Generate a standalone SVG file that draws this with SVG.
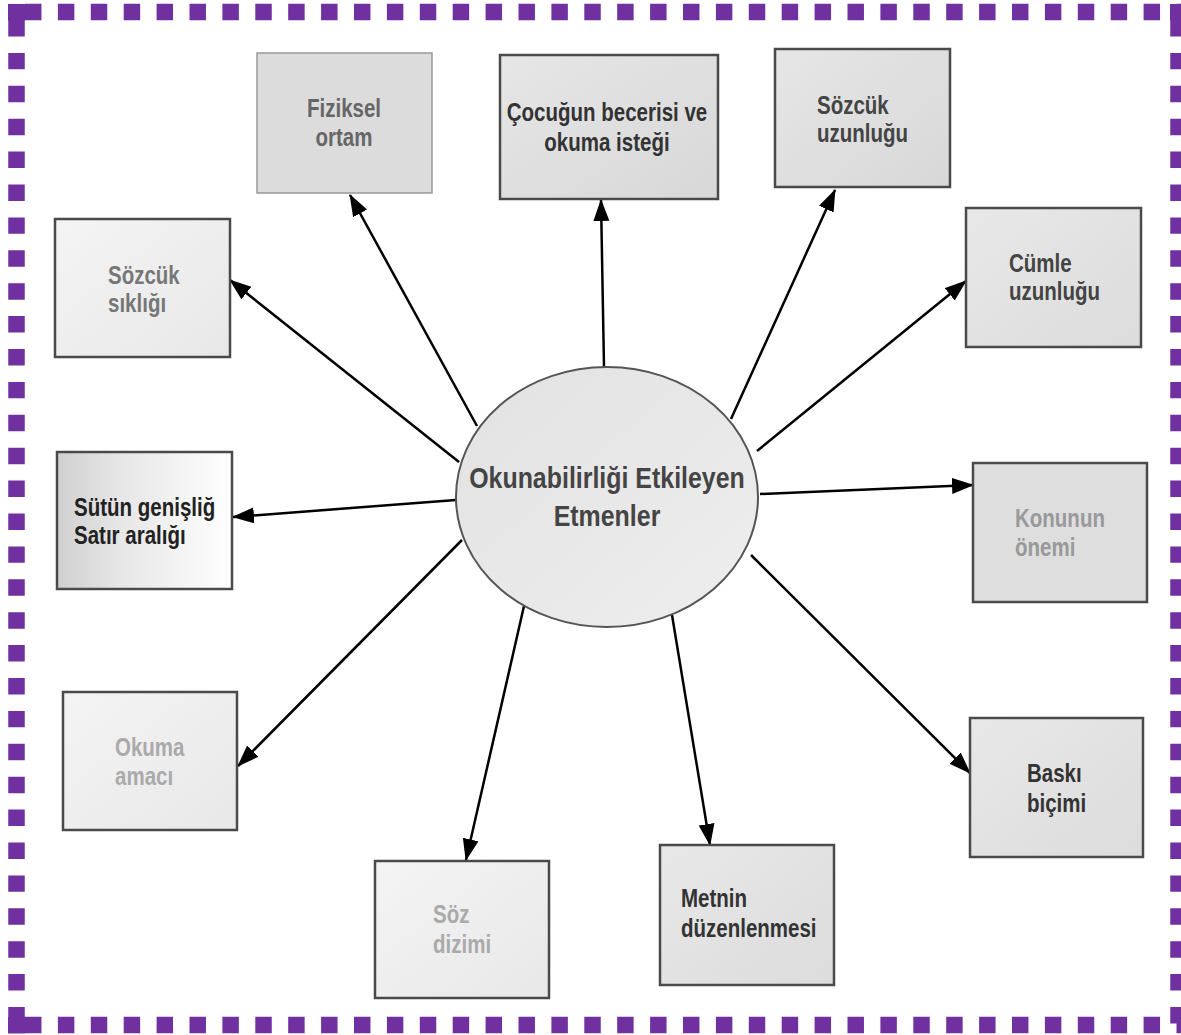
<svg xmlns="http://www.w3.org/2000/svg" width="1181" height="1035" viewBox="0 0 1181 1035">
<defs>
<linearGradient id="g1" x1="0" y1="0" x2="1" y2="1"><stop offset="0" stop-color="#e6e6e6"/><stop offset="1" stop-color="#d8d8d8"/></linearGradient>
<linearGradient id="g2" x1="0" y1="0" x2="1" y2="1"><stop offset="0" stop-color="#f4f4f4"/><stop offset="1" stop-color="#e8e8e8"/></linearGradient>
<linearGradient id="g3" x1="0" y1="0" x2="1" y2="0"><stop offset="0" stop-color="#d0d0d0"/><stop offset="0.35" stop-color="#e6e6e6"/><stop offset="1" stop-color="#ffffff"/></linearGradient>
<linearGradient id="g4" x1="0" y1="0" x2="1" y2="1"><stop offset="0" stop-color="#e8e8e8"/><stop offset="1" stop-color="#dcdcdc"/></linearGradient>
<linearGradient id="ge" x1="0" y1="0" x2="1" y2="1"><stop offset="0" stop-color="#e2e2e2"/><stop offset="1" stop-color="#eeeeee"/></linearGradient>
<marker id="ah" markerUnits="userSpaceOnUse" markerWidth="24" markerHeight="18" refX="21" refY="8" orient="auto"><path d="M0,0 L22,8 L0,16 z" fill="#000"/></marker>
</defs>
<style>
.bd{fill:none;stroke:#7030a0;stroke-width:16.5;stroke-dasharray:16.45 16.45}
.bx{stroke:#4a4a4a;stroke-width:2.5}
.t{font-family:"Liberation Sans",Arial,sans-serif;font-weight:bold;font-size:25px}
.c{stroke:#000;stroke-width:2.5;fill:none;marker-end:url(#ah)}
</style>
<rect width="1181" height="1035" fill="#fff"/>
<g id="border">
<line class="bd" x1="25" y1="12" x2="1181" y2="12"/>
<line class="bd" x1="25" y1="1025" x2="1181" y2="1025"/>
<line class="bd" x1="16.5" y1="20" x2="16.5" y2="1035"/>
<line class="bd" x1="1178.5" y1="20" x2="1178.5" y2="1035"/>
<rect x="8" y="4" width="17" height="16.5" fill="#7030a0"/>
<rect x="1170" y="4" width="17" height="16.5" fill="#7030a0"/>
<rect x="8" y="1017" width="17" height="16.5" fill="#7030a0"/>
</g>
<g id="connectors">
<line class="c" x1="477" y1="426" x2="350" y2="195"/>
<line class="c" x1="604" y1="367" x2="601" y2="200"/>
<line class="c" x1="731" y1="419" x2="835" y2="190"/>
<line class="c" x1="757" y1="451" x2="966" y2="281"/>
<line class="c" x1="760" y1="494" x2="973" y2="485"/>
<line class="c" x1="751" y1="555" x2="970" y2="773"/>
<line class="c" x1="672" y1="615" x2="710" y2="845"/>
<line class="c" x1="524" y1="606" x2="466" y2="860"/>
<line class="c" x1="462" y1="540" x2="238" y2="766"/>
<line class="c" x1="456" y1="500" x2="233" y2="517"/>
<line class="c" x1="459" y1="462" x2="230" y2="280"/>
</g>
<g id="center">
<ellipse cx="607" cy="497" rx="151" ry="130" fill="url(#ge)" stroke="#555" stroke-width="2"/>
<text class="t" fill="#444" text-anchor="middle" transform="translate(607,488) scale(0.86,1)" style="font-size:29px"><tspan x="0" y="0">Okunabilirliği Etkileyen</tspan><tspan x="0" y="38">Etmenler</tspan></text>
</g>
<g id="n-fiziksel">
<rect x="257" y="53" width="175" height="140" fill="#dcdcdc" stroke="#999" stroke-width="1.5"/>
<text class="t" fill="#666" text-anchor="middle" transform="translate(344,117) scale(0.82,1)"><tspan x="0" y="0">Fiziksel</tspan><tspan x="0" y="29">ortam</tspan></text>
</g>
<g id="n-cocugun">
<rect class="bx" x="500" y="55" width="218" height="144" fill="url(#g1)" stroke="#444"/>
<text class="t" fill="#333" text-anchor="middle" transform="translate(607,121) scale(0.82,1)"><tspan x="0" y="0">Çocuğun becerisi ve</tspan><tspan x="0" y="30">okuma isteği</tspan></text>
</g>
<g id="n-sozcuk-uzunlugu">
<rect class="bx" x="775" y="49" width="175" height="138" fill="url(#g1)"/>
<text class="t" fill="#444" transform="translate(817,114) scale(0.82,1)"><tspan x="0" y="0">Sözcük</tspan><tspan x="0" y="28">uzunluğu</tspan></text>
</g>
<g id="n-cumle">
<rect class="bx" x="966" y="208" width="175" height="139" fill="url(#g4)"/>
<text class="t" fill="#444" transform="translate(1009,272) scale(0.82,1)"><tspan x="0" y="0">Cümle</tspan><tspan x="0" y="28">uzunluğu</tspan></text>
</g>
<g id="n-konunun">
<rect class="bx" x="973" y="463" width="174" height="139" fill="#dedede"/>
<text class="t" fill="#999" transform="translate(1015,527) scale(0.82,1)"><tspan x="0" y="0">Konunun</tspan><tspan x="0" y="29">önemi</tspan></text>
</g>
<g id="n-baski">
<rect class="bx" x="970" y="718" width="173" height="139" fill="url(#g4)" stroke="#444"/>
<text class="t" fill="#333" transform="translate(1027,782) scale(0.82,1)"><tspan x="0" y="0">Baskı</tspan><tspan x="0" y="30">biçimi</tspan></text>
</g>
<g id="n-metnin">
<rect class="bx" x="660" y="845" width="174" height="140" fill="url(#g4)" stroke="#444"/>
<text class="t" fill="#333" transform="translate(681,907) scale(0.82,1)"><tspan x="0" y="0">Metnin</tspan><tspan x="0" y="30">düzenlenmesi</tspan></text>
</g>
<g id="n-soz-dizimi">
<rect class="bx" x="375" y="861" width="174" height="137" fill="url(#g2)"/>
<text class="t" fill="#aaa" transform="translate(433,923) scale(0.82,1)"><tspan x="0" y="0">Söz</tspan><tspan x="0" y="30">dizimi</tspan></text>
</g>
<g id="n-okuma">
<rect class="bx" x="63" y="692" width="174" height="138" fill="url(#g2)" stroke="#666"/>
<text class="t" fill="#aaa" transform="translate(115,756) scale(0.82,1)"><tspan x="0" y="0">Okuma</tspan><tspan x="0" y="29">amacı</tspan></text>
</g>
<g id="n-sutun">
<rect class="bx" x="57" y="452" width="175" height="137" fill="url(#g3)" stroke="#666"/>
<text class="t" fill="#222" transform="translate(74,516) scale(0.82,1)"><tspan x="0" y="0">Sütün genişliğ</tspan><tspan x="0" y="28">Satır aralığı</tspan></text>
</g>
<g id="n-sozcuk-sikligi">
<rect class="bx" x="55" y="219" width="175" height="138" fill="url(#g2)"/>
<text class="t" fill="#777" transform="translate(108,284) scale(0.82,1)"><tspan x="0" y="0">Sözcük</tspan><tspan x="0" y="28">sıklığı</tspan></text>
</g>
</svg>
